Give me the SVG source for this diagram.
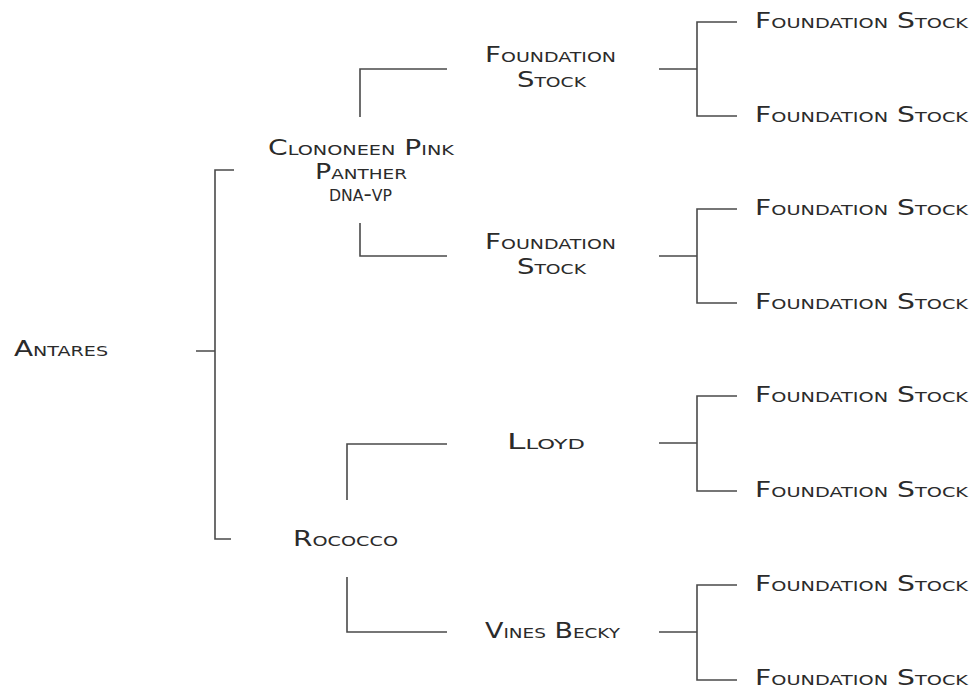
<svg xmlns="http://www.w3.org/2000/svg" width="974" height="688" viewBox="0 0 974 688">
<style>
  .lbl { font-family: "DejaVu Sans", "Liberation Sans", sans-serif; font-size: 20.5px; font-variant: small-caps; fill: #2b2b2b; }
  .sm { font-size: 22px; }
  .ln { fill: none; stroke: #4a4a4a; stroke-width: 1.6; }
</style>
<rect width="974" height="688" fill="#ffffff"/>
<g id="connectors">
  <path class="ln" d="M196,351 H215 M234,170 H215 V539 H231"/>
  <path class="ln" d="M447,69 H360 V117 M360,223 V256 H447"/>
  <path class="ln" d="M447,444 H347 V500 M347,577 V632 H447"/>
  <path class="ln" d="M659,69 H697 M737,22 H697 V116 H737"/>
  <path class="ln" d="M659,256 H697 M737,209 H697 V303 H737"/>
  <path class="ln" d="M659,443 H697 M737,396 H697 V491 H737"/>
  <path class="ln" d="M659,632 H697 M737,585 H697 V680 H737"/>
</g>
<g id="antares"><text class="lbl" x="14" y="356" textLength="94" lengthAdjust="spacingAndGlyphs">Antares</text></g>
<g id="clononeen">
  <text class="lbl" x="268" y="155" textLength="186" lengthAdjust="spacingAndGlyphs">Clononeen Pink</text>
  <text class="lbl" x="315" y="179" textLength="92" lengthAdjust="spacingAndGlyphs">Panther</text>
  <text class="lbl sm" x="329" y="200.5" textLength="63" lengthAdjust="spacingAndGlyphs">dna-vp</text>
</g>
<g id="rococco"><text class="lbl" x="293" y="546" textLength="105" lengthAdjust="spacingAndGlyphs">Rococco</text></g>
<g id="fs1">
  <text class="lbl" x="485" y="62" textLength="131" lengthAdjust="spacingAndGlyphs">Foundation</text>
  <text class="lbl" x="517" y="87" textLength="69" lengthAdjust="spacingAndGlyphs">Stock</text>
</g>
<g id="fs2">
  <text class="lbl" x="485" y="249" textLength="131" lengthAdjust="spacingAndGlyphs">Foundation</text>
  <text class="lbl" x="517" y="274" textLength="69" lengthAdjust="spacingAndGlyphs">Stock</text>
</g>
<g id="lloyd"><text class="lbl" x="507" y="449" textLength="78" lengthAdjust="spacingAndGlyphs">Lloyd</text></g>
<g id="vines"><text class="lbl" x="485" y="638" textLength="135" lengthAdjust="spacingAndGlyphs">Vines Becky</text></g>
<g id="r1"><text class="lbl" x="755" y="27.5" textLength="213" lengthAdjust="spacingAndGlyphs">Foundation Stock</text></g>
<g id="r2"><text class="lbl" x="755" y="121.5" textLength="213" lengthAdjust="spacingAndGlyphs">Foundation Stock</text></g>
<g id="r3"><text class="lbl" x="755" y="214.5" textLength="213" lengthAdjust="spacingAndGlyphs">Foundation Stock</text></g>
<g id="r4"><text class="lbl" x="755" y="308.5" textLength="213" lengthAdjust="spacingAndGlyphs">Foundation Stock</text></g>
<g id="r5"><text class="lbl" x="755" y="401.5" textLength="213" lengthAdjust="spacingAndGlyphs">Foundation Stock</text></g>
<g id="r6"><text class="lbl" x="755" y="496.5" textLength="213" lengthAdjust="spacingAndGlyphs">Foundation Stock</text></g>
<g id="r7"><text class="lbl" x="755" y="590.5" textLength="213" lengthAdjust="spacingAndGlyphs">Foundation Stock</text></g>
<g id="r8"><text class="lbl" x="755" y="684.5" textLength="213" lengthAdjust="spacingAndGlyphs">Foundation Stock</text></g>
</svg>
